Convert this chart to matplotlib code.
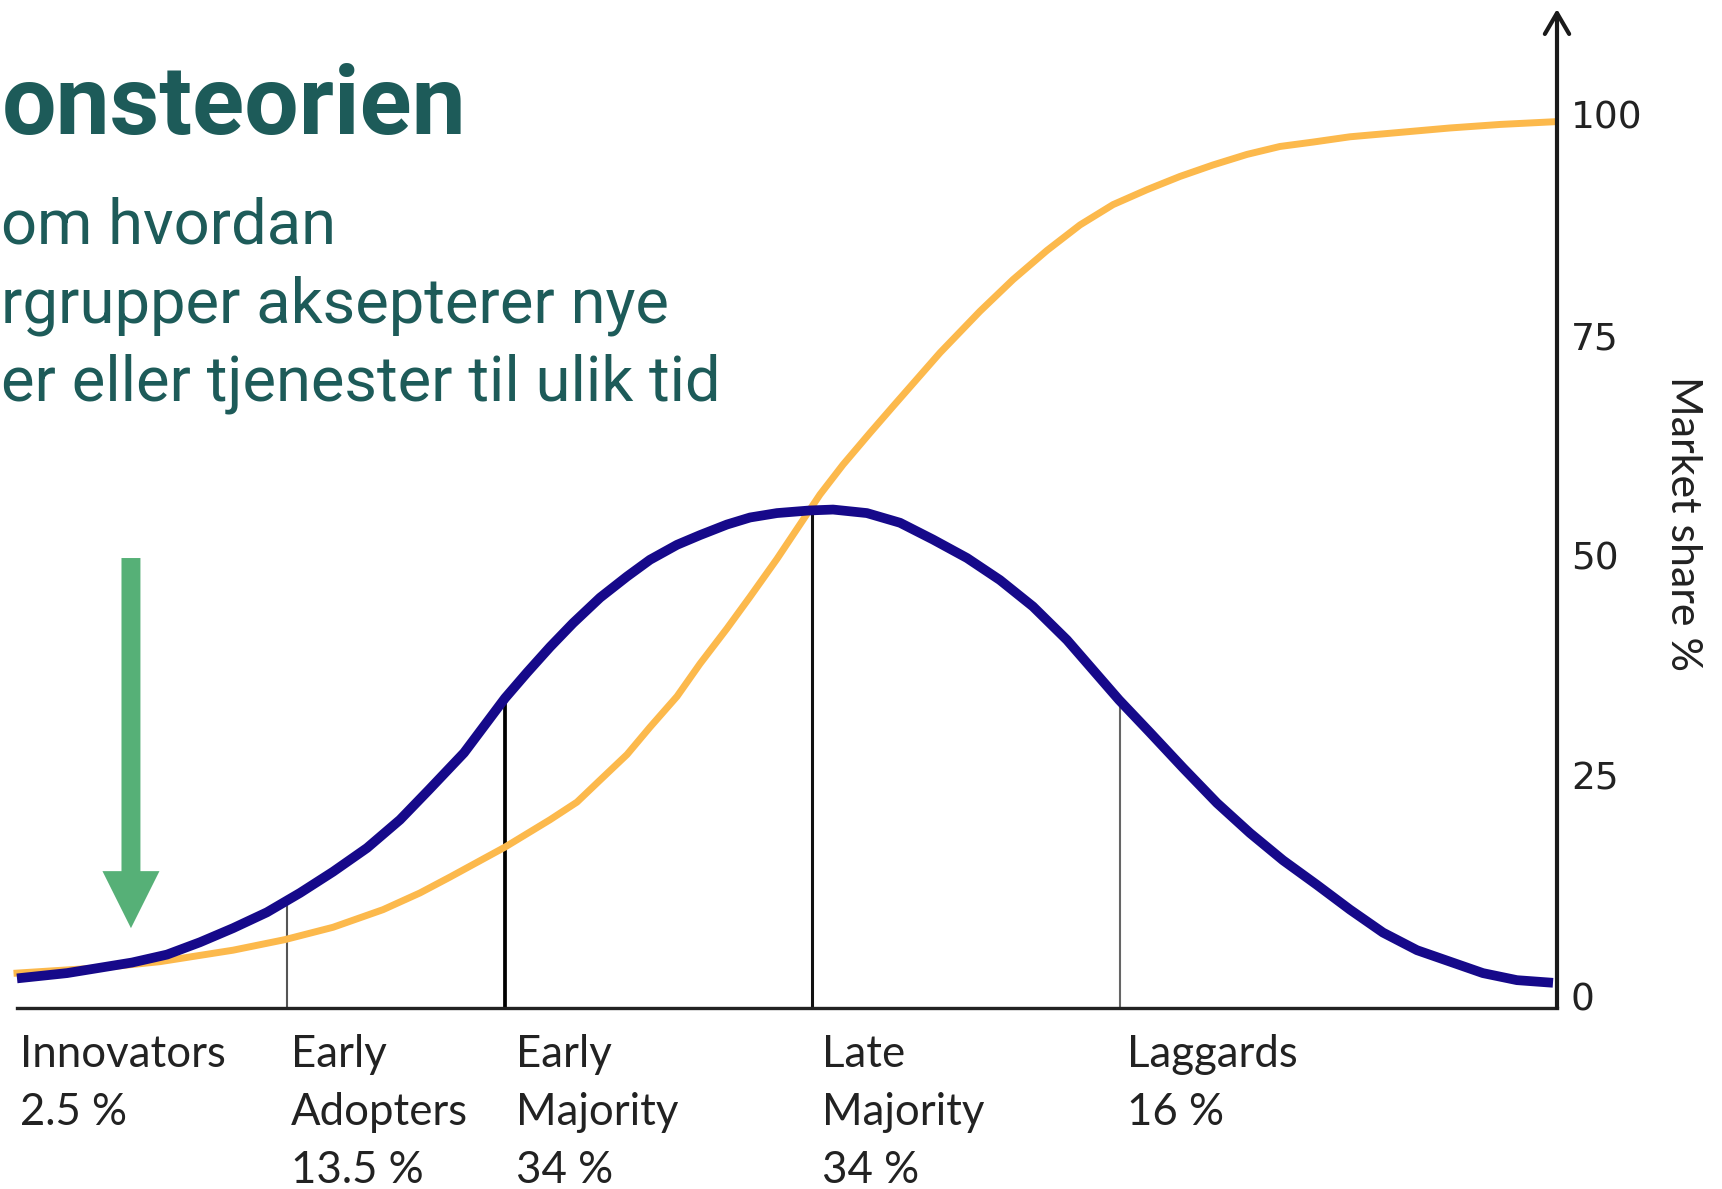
import numpy as np
import matplotlib.pyplot as plt
from matplotlib.patches import FancyArrow

# adoption curve (bell), x in % of the time axis
x_bell = [0.0, 3.25, 7.47, 9.74, 11.88, 14.03, 16.23, 18.38, 20.52, 22.73, 24.87, 26.75,
          29.03, 31.69, 33.12, 34.61, 36.10, 37.86, 39.61, 41.10, 42.86, 44.35, 46.10,
          47.60, 49.35, 51.49, 52.99, 55.19, 57.34, 59.48, 61.69, 63.83, 65.97, 68.18,
          69.87, 71.56, 73.57, 75.71, 77.92, 80.06, 82.21, 84.42, 86.56, 88.70, 90.91,
          93.05, 95.19, 97.40, 99.74]
bell = [2.0, 2.6, 3.8, 4.7, 6.1, 7.7, 9.5, 11.7, 14.1, 16.8, 20.0, 23.4,
        27.6, 33.8, 36.7, 39.6, 42.3, 45.2, 47.6, 49.5, 51.2, 52.3, 53.5,
        54.3, 54.8, 55.1, 55.2, 54.8, 53.7, 51.8, 49.7, 47.2, 44.2, 40.4,
        37.0, 33.6, 29.9, 25.9, 21.9, 18.5, 15.4, 12.6, 9.8, 7.2, 5.2,
        3.9, 2.6, 1.8, 1.5]

# cumulative market share (S-curve)
x_share = [0.0, 5.39, 9.29, 14.03, 17.40, 20.52, 23.77, 26.17, 28.12, 31.69, 34.61, 36.36,
           37.86, 39.61, 41.10, 42.86, 44.35, 46.10, 47.60, 49.35, 50.84, 52.14, 53.64,
           55.39, 56.88, 59.94, 62.53, 64.68, 66.88, 69.03, 71.17, 73.38, 75.52, 77.66,
           79.87, 82.01, 84.16, 86.56, 89.81, 93.05, 96.30, 99.74]
share = [2.6, 3.2, 3.9, 5.2, 6.4, 7.8, 9.8, 11.7, 13.5, 16.9, 20.0, 22.0,
         24.5, 27.4, 30.5, 34.0, 37.7, 41.7, 45.3, 49.6, 53.5, 56.9, 60.3,
         63.9, 66.9, 73.0, 77.7, 81.3, 84.6, 87.5, 89.8, 91.5, 93.0, 94.3,
         95.5, 96.4, 96.9, 97.5, 98.0, 98.5, 98.9, 99.2]

# group dividers and labels
divider_x = [17.5, 31.7, 51.6, 71.6]
divider_top = [10.8, 33.8, 55.0, 33.6]
group_x = [0.2, 17.8, 32.4, 52.3, 72.1]
groups = ['Innovators', 'Early\nAdopters', 'Early\nMajority', 'Late\nMajority', 'Laggards']
group_pct = ['2.5 %', '13.5 %', '34 %', '34 %', '16 %']
y_ticks = [0, 25, 50, 75, 100]

title = 'onsteorien'
body = ['om hvordan', 'rgrupper aksepterer nye', 'er eller tjenester til ulik tid']

teal = '#1d5b59'
navy = '#16098a'
orange = '#fcb94c'
green = '#56b077'
ink = '#222222'

W, H = 1722, 1189
fig = plt.figure(figsize=(W / 100, H / 100), dpi=100)
ax = fig.add_axes([17 / W, (H - 1008) / H, 1540 / W, 999 / H])
ax.patch.set_visible(False)
ax.set_xlim(0, 100)
ax.set_ylim(-1.36, 112)

# a. dividers
div_lw = [1.5, 2.7, 2.2, 1.5]
div_col = ['#555555', '#000000', '#111111', '#666666']
for x, top, lw, c in zip(divider_x, divider_top, div_lw, div_col):
    ax.plot([x, x], [ax.get_ylim()[0], top], color=c, lw=lw, zorder=1)

# b. curves
ax.plot(x_share, share, color=orange, lw=5, solid_joinstyle='round', zorder=2, clip_on=False)
ax.plot(x_bell, bell, color=navy, lw=7, solid_joinstyle='round', solid_capstyle='butt',
        zorder=3, clip_on=False)

# c. axes
for s in ['left', 'top', 'right']:
    ax.spines[s].set_visible(False)
ax.spines['bottom'].set_linewidth(2.4)
ax.spines['bottom'].set_color(ink)
ax.set_xticks([])
ax.yaxis.tick_right()
ax.set_yticks(y_ticks)
ax.tick_params(axis='y', length=0, pad=10, labelsize=27, labelcolor=ink)
ax.annotate('', xy=(1, 1), xytext=(1, 0), xycoords='axes fraction',
            arrowprops=dict(arrowstyle='->,head_length=0.6,head_width=0.35', lw=3,
                            color='#1a1a1a', shrinkA=0, shrinkB=0, mutation_scale=25),
            annotation_clip=False)
ax.yaxis.set_label_position('right')
ax.set_ylabel('Market share %', rotation=-90, fontsize=31, family='Lato', color=ink)
ax.yaxis.set_label_coords(1.094, 0.4845)

# d. group labels under the axis
trans = ax.get_xaxis_transform()
for x, name, pct in zip(group_x, groups, group_pct):
    lines = (name + '\n' + pct).split('\n')
    for j, line in enumerate(lines):
        ax.text(x, -0.059 - j * 0.058, line, transform=trans, fontsize=31.5, family='Lato',
                color=ink, ha='left', va='baseline', clip_on=False)

# e. green pointer at the innovators
ax.add_patch(FancyArrow(7.4, 49.7, 0, 7.7 - 49.7, width=1.23, head_width=3.7,
                        head_length=6.47, length_includes_head=True, color=green,
                        lw=0, zorder=4))

# f. slide text
fig.text(2 / W, 1 - 134 / H, title, fontsize=69.5, fontweight='bold', family='Roboto',
         color=teal, va='baseline')
for i, line in enumerate(body):
    fig.text(1 / W, 1 - (243 + 79 * i) / H, line, fontsize=45.5, family='Roboto',
             color=teal, va='baseline')

fig.savefig('out.png', dpi=100)
